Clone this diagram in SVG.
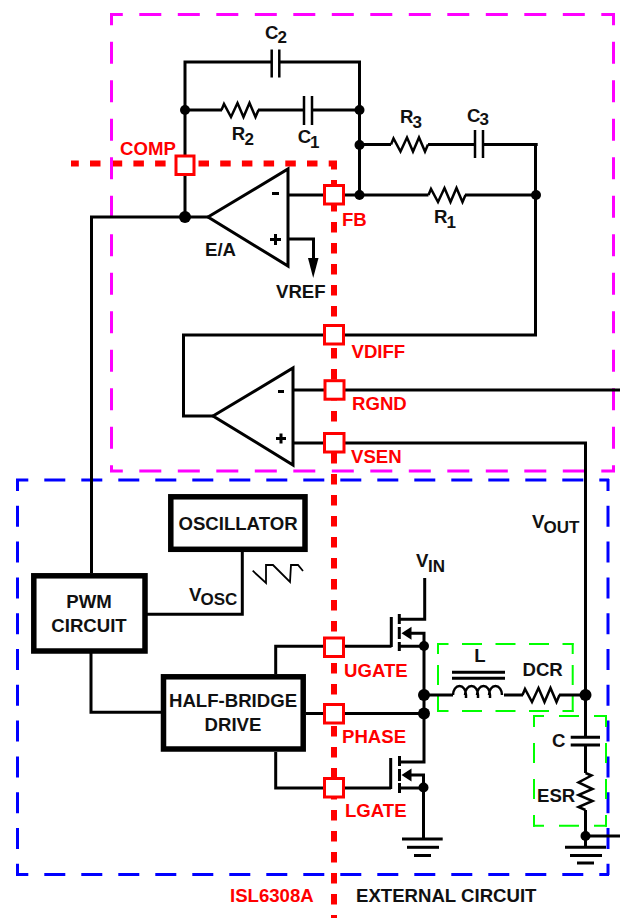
<svg xmlns="http://www.w3.org/2000/svg" width="620" height="918" viewBox="0 0 620 918">
<style>
text{font-family:"Liberation Sans",Arial,sans-serif;font-weight:bold;font-size:18.6px;fill:#111}
.r{fill:#f00}
.s{font-size:17px}
.m{text-anchor:middle}
.w{fill:none;stroke:#000;stroke-width:3}
.t{fill:none;stroke:#000;stroke-width:2.5}
.tri{fill:#fff;stroke:#000;stroke-width:3;stroke-linejoin:miter}
.box{fill:#fff;stroke:#000;stroke-width:5.5}
.pin{fill:#fff;stroke:#f00;stroke-width:3}
.rd{fill:none;stroke:#f00;stroke-width:6;stroke-dasharray:10.5 10.7}
.mg{fill:none;stroke:#f0f;stroke-width:3;stroke-dasharray:22 16.5}
.bl{fill:none;stroke:#00f;stroke-width:3;stroke-dasharray:21 16}
.bv{fill:none;stroke:#00f;stroke-width:3;stroke-dasharray:21 14.8}
.gr{fill:none;stroke:#0f0;stroke-width:2;stroke-dasharray:20 13.5}
.gv{fill:none;stroke:#0f0;stroke-width:2;stroke-dasharray:20 11}
</style>
<defs>
<path id="res" class="t" d="M0,0 L2.5,-6 L9.5,7 L16,-7 L22,7 L28,-7 L34,7 L37,0"/>
<path id="ah" d="M0,0 L10,-6.5 L10,6.5 Z" fill="#000"/>
</defs>
<g id="boundaries">
<path class="rd" stroke-dashoffset="2.7" style="stroke-dasharray:10.5 11.2" d="M71,163.5 H337"/>
<path class="rd" stroke-dashoffset="6" style="stroke-dasharray:10.5 10.5" d="M334,165 V918"/>
<path class="mg" stroke-dashoffset="9.2" d="M110,14.5 H615"/>
<path class="mg" stroke-dashoffset="9.8" d="M111.5,13 V472"/>
<path class="mg" stroke-dashoffset="9.8" d="M613.5,13 V472"/>
<path class="mg" stroke-dashoffset="9.2" d="M110,471 H615"/>
<path class="bl" stroke-dashoffset="8.7" d="M16,480 H609"/>
<path class="bl" stroke-dashoffset="8.7" d="M16,874.5 H609"/>
<path class="bv" stroke-dashoffset="9" d="M17.5,479 V875"/>
<path class="bv" stroke-dashoffset="9" d="M608,479 V875"/>
<path class="gr" stroke-dashoffset="8.5" d="M437,644 H573.5"/>
<path class="gr" stroke-dashoffset="8.5" d="M437,711 H573.5"/>
<path class="gv" stroke-dashoffset="9" d="M438,643 V712"/>
<path class="gv" stroke-dashoffset="9" d="M572.7,643 V712"/>
<path class="gr" style="stroke-dasharray:20 15" stroke-dashoffset="9" d="M533,716 H607"/>
<path class="gr" style="stroke-dasharray:20 15" stroke-dashoffset="9" d="M533,825.7 H607"/>
<path class="gv" style="stroke-dasharray:20 16" stroke-dashoffset="8" d="M534,715 V826.7"/>
<path class="gv" style="stroke-dasharray:20 16" stroke-dashoffset="8" d="M606,715 V826.7"/>
</g>
<g id="connectors">
<path class="w" d="M185,217 V62 H271.7 M279.3,62 H359.5 V195"/>
<path class="w" d="M185,110 H222 M258,110 H304 M312,110 H359.5"/>
<path class="t" d="M271.7,49.5 V77.5 M279.3,49.5 V77.5 M304,96 V125 M312,96 V125"/>
<use href="#res" x="221.5" y="110"/>
<path class="w" d="M359.5,144.5 H391 M428,144.5 H475 M483,144.5 H537.7"/>
<path class="t" d="M475,130 V158 M483,130 V158"/>
<use href="#res" x="391" y="144.5"/>
<path class="w" d="M288,195 H428.5 M465,195 H536"/>
<use href="#res" x="428.5" y="195"/>
<path class="w" d="M535.5,144.5 V335 H183.5 V416 H213"/>
<path class="w" d="M91.5,573 V217 H208"/>
<path class="w" d="M288,239 H313.5 V260"/>
<path d="M308,258 H318.5 L313.2,278 Z" fill="#000"/>
<path class="w" d="M293,390 H620"/>
<path class="w" d="M293,443 H585.5 V737"/>
<path class="w" d="M242.3,552 V614.3 H147"/>
<path class="w" d="M91,653 V712.3 H161"/>
<path class="w" d="M275.7,674 V646.3 H391.5"/>
<path class="w" d="M306,713.5 H424"/>
<path class="w" d="M275.7,752 V788 H391"/>
<path class="t" d="M391.3,617 V647 M399.3,614 V624 M399.3,627 V639 M399.3,642 V651" style="stroke-width:3"/>
<path class="w" d="M399.3,619.3 H424.7 V578"/>
<path class="w" d="M399.3,646.3 H424 M410,633.3 H424 V762 H399.5"/>
<use href="#ah" x="401.5" y="633.3"/>
<path class="t" d="M390.7,758 V789 M399.5,756 V766 M399.5,769 V781 M399.5,783 V793" style="stroke-width:3"/>
<path class="w" d="M399.5,788 H423.5 M410,775 H423.5 V839"/>
<use href="#ah" x="401.5" y="775"/>
<path class="w" d="M402,839 H442.7"/>
<path class="w" d="M407,847.3 H439"/>
<path class="w" d="M414,855.5 H431"/>
<path class="w" d="M424,695 H453 M504,695 H523 M559,695 H585.5"/>
<path class="t" d="M453,695 a6.5,9 0 0 1 13,0 v3 m-1,-3 a6.5,9 0 0 1 13,0 v3 m-1,-3 a6.5,9 0 0 1 13,0 v3 m-1,-3 a6.5,9 0 0 1 13,0"/>
<path class="w" d="M452,672.3 H505 M452,678.3 H505"/>
<use href="#res" x="522.5" y="695"/>
<path class="w" d="M570.7,737.3 H600 M570.7,745 H600"/>
<path class="w" d="M585.5,745 V773 M585.5,810 V847"/>
<use href="#res" transform="translate(585.5,773) rotate(90)"/>
<path class="w" d="M585.5,836 H620"/>
<path class="w" d="M565,847.3 H606"/>
<path class="w" d="M570,855.5 H602"/>
<path class="w" d="M577,863 H594"/>
<path class="t" d="M252.7,570.7 L266,583 V565 H273 L290,582 L291,565 H298 L303,571" style="stroke-width:1.8"/>
<g fill="#000">
<circle cx="185" cy="110" r="5"/><circle cx="359.5" cy="110" r="5"/>
<circle cx="359.5" cy="145" r="5"/><circle cx="359.5" cy="195" r="5"/>
<circle cx="536" cy="195" r="5"/><circle cx="185" cy="217" r="6"/>
<circle cx="424" cy="646" r="5"/><circle cx="424" cy="695" r="6"/>
<circle cx="424" cy="713.5" r="6"/><circle cx="423.5" cy="787.5" r="5"/>
<circle cx="585.5" cy="695" r="6"/><circle cx="585.5" cy="836" r="5"/>
</g>
</g>
<g id="ea"><path class="tri" d="M208,217 L288,169 V266 Z"/>
<path class="w" d="M272,193.5 H279"/><path class="w" d="M270,239.5 H281 M275.5,234 V245"/>
<text x="205" y="255.5">E/A</text></g>
<g id="diff"><path class="tri" d="M213,416 L293,368 V465 Z"/>
<path class="w" d="M278,391.5 H284"/><path class="w" d="M276,438.5 H286 M281,433.5 V443.5"/></g>
<g id="oscillator"><rect class="box" x="170.8" y="496.8" width="134.2" height="52.5"/><text class="m" x="238" y="530">OSCILLATOR</text></g>
<g id="pwm"><rect class="box" x="33.8" y="575.8" width="111.2" height="75.2"/><text class="m" x="89" y="608.3">PWM</text><text class="m" x="89" y="632.3">CIRCUIT</text></g>
<g id="halfbridge"><rect class="box" x="163.5" y="676.8" width="139.7" height="72.2"/><text class="m" x="233" y="707">HALF-BRIDGE</text><text class="m" x="233" y="730.7">DRIVE</text></g>
<g id="pin-comp"><rect class="pin" x="176" y="156" width="18" height="18.5"/><text class="r" x="120" y="155">COMP</text></g>
<g id="pin-fb"><rect class="pin" x="324.5" y="185.5" width="19" height="18.5"/><text class="r" x="342" y="226">FB</text></g>
<g id="pin-vdiff"><rect class="pin" x="324.5" y="325.5" width="19" height="18.5"/><text class="r" x="351.5" y="358">VDIFF</text></g>
<g id="pin-rgnd"><rect class="pin" x="325" y="380.7" width="19" height="18.5"/><text class="r" x="352" y="410">RGND</text></g>
<g id="pin-vsen"><rect class="pin" x="324.5" y="433.5" width="19.5" height="18.5"/><text class="r" x="351" y="462.7">VSEN</text></g>
<g id="pin-ugate"><rect class="pin" x="324.5" y="638" width="19" height="18.5"/><text class="r" x="344" y="676.7">UGATE</text></g>
<g id="pin-phase"><rect class="pin" x="324.5" y="704.5" width="19" height="18.5"/><text class="r" x="342" y="742.7">PHASE</text></g>
<g id="pin-lgate"><rect class="pin" x="324.5" y="778.5" width="19" height="18.5"/><text class="r" x="345" y="816.7">LGATE</text></g>
<g id="labels">
<text x="265" y="39">C</text><text class="s" x="277.5" y="43">2</text>
<text x="231.7" y="140">R</text><text class="s" x="244.5" y="145">2</text>
<text x="297.7" y="143">C</text><text class="s" x="310" y="148">1</text>
<text x="400" y="123">R</text><text class="s" x="412.5" y="128">3</text>
<text x="467" y="122">C</text><text class="s" x="479.5" y="125">3</text>
<text x="434" y="223">R</text><text class="s" x="446.5" y="228">1</text>
<text x="276" y="297.5">VREF</text>
<text x="189" y="600.7">V</text><text class="s" x="200.5" y="605">OSC</text>
<text x="532" y="528">V</text><text class="s" x="543.5" y="533">OUT</text>
<text x="416" y="566.7">V</text><text class="s" x="428" y="571.7">IN</text>
<text class="m" x="480" y="661.7">L</text>
<text x="522.5" y="675.7">DCR</text>
<text x="552" y="747">C</text>
<text x="537" y="801.7">ESR</text>
<text class="r" x="230" y="901.7">ISL6308A</text>
<text x="356" y="902.3">EXTERNAL CIRCUIT</text>
</g>
</svg>
